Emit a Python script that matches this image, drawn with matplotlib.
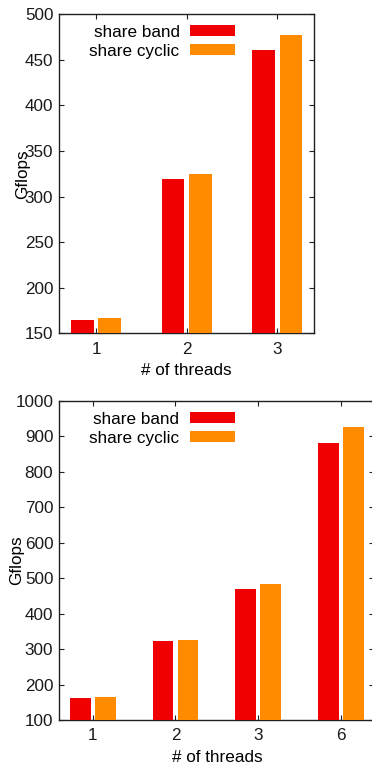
import matplotlib
matplotlib.use("Agg")
import matplotlib.pyplot as plt
import numpy as np

plt.rcParams['font.family'] = ['Liberation Sans', 'DejaVu Sans']
plt.rcParams['font.size'] = 12.3

# data
threads_top = ["1", "2", "3"]
band_top = [164.6, 319.3, 460.8]
cyclic_top = [166.5, 324.8, 477.0]

threads_bot = ["1", "2", "3", "6"]
band_bot = [161, 322.7, 469, 880.7]
cyclic_bot = [164.8, 325.5, 483, 925.8]

RED = "#f00000"
ORANGE = "#ff8c00"


def panel(ax, labels, band, cyclic, ylim, yticks, ylab_x, leg_x, leg_y):
    x = np.arange(len(labels))
    w = 0.25
    ax.bar(x - 0.15, band, w, bottom=0, color=RED, label="share band", zorder=3)
    ax.bar(x + 0.15, cyclic, w, bottom=0, color=ORANGE, label="share cyclic", zorder=3)
    ax.set_xlim(-0.405, len(labels) - 1 + 0.405)
    ax.set_ylim(*ylim)
    ax.set_yticks(yticks)
    ax.set_xticks(x)
    ax.set_xticklabels(labels)
    ax.tick_params(direction="in", top=True, right=True, length=3.5, width=0.8,
                   colors="#202020", labelcolor="#1a1a1a")
    ax.tick_params(axis="y", pad=4.3)
    ax.tick_params(axis="x", pad=6)
    for s in ax.spines.values():
        s.set_linewidth(1.0)
        s.set_color("#202020")
    ax.set_ylabel("Gflops")
    ax.yaxis.label.set_verticalalignment("center")
    ax.yaxis.set_label_coords(ylab_x, 0.5)
    ax.set_xlabel("# of threads")
    ax.xaxis.label.set_verticalalignment("baseline")
    ax.xaxis.set_label_coords(0.5, -0.131)
    ax.legend(loc="upper right", bbox_to_anchor=(leg_x, leg_y), markerfirst=False,
              frameon=False, borderpad=0, borderaxespad=0, handlelength=2.65,
              handleheight=0.6, handletextpad=0.6, labelspacing=0.25)


fig = plt.figure(figsize=(3.72, 7.65), dpi=100)
ax1 = fig.add_axes([59.3 / 372, 1 - 333.3 / 765, 254.7 / 372, 319 / 765])
ax2 = fig.add_axes([59.3 / 372, 1 - 720 / 765, 315.1 / 372, 319.3 / 765])

panel(ax1, threads_top, band_top, cyclic_top, (150, 500), range(150, 501, 50),
      -0.145, 0.690, 0.968)
panel(ax2, threads_bot, band_bot, cyclic_bot, (100, 1000), range(100, 1001, 100),
      -0.134, 0.5576, 0.966)

fig.savefig("out.png", dpi=100)
